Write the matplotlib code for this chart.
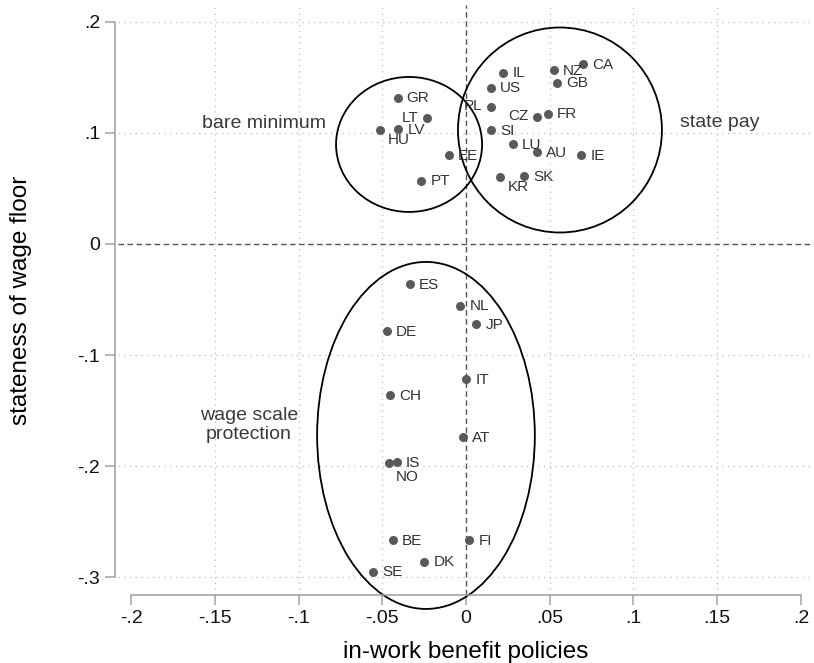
import matplotlib.pyplot as plt
from matplotlib.patches import Ellipse

plt.rcParams['font.family'] = ['Liberation Sans', 'DejaVu Sans']

# country codes and their scores
countries = ['GR', 'LT', 'HU', 'LV', 'EE', 'PT',
             'IL', 'US', 'PL', 'SI', 'CZ', 'FR', 'NZ', 'CA', 'GB',
             'LU', 'AU', 'IE', 'KR', 'SK',
             'ES', 'NL', 'JP', 'DE', 'IT', 'CH', 'AT', 'IS', 'NO',
             'BE', 'FI', 'DK', 'SE']
inwork = [-0.0408, -0.0231, -0.0513, -0.0404, -0.0101, -0.0267,
          0.0223, 0.0151, 0.0148, 0.0151, 0.0426, 0.0490, 0.0525, 0.0697, 0.0545,
          0.0279, 0.0426, 0.0688, 0.0205, 0.0346,
          -0.0334, -0.0034, 0.0061, -0.0472, 0.0002, -0.0454, -0.0016, -0.0414, -0.0458,
          -0.0438, 0.0020, -0.0249, -0.0553]
stateness = [0.1316, 0.1130, 0.1026, 0.1031, 0.0797, 0.0569,
             0.1541, 0.1406, 0.1235, 0.1022, 0.1139, 0.1172, 0.1565, 0.1619, 0.1451,
             0.0896, 0.0824, 0.0797, 0.0605, 0.0608,
             -0.0361, -0.0556, -0.0724, -0.0784, -0.1216, -0.1360, -0.1740, -0.1965, -0.1974,
             -0.2665, -0.2665, -0.2860, -0.2950]
# label clock position (Stata style): 3 = right, 9 = left, 4/5 = below right
labpos = {'LT': 9, 'PL': 9, 'CZ': 9, 'HU': 4, 'KR': 4, 'NO': 5}

xticks = [-0.2, -0.15, -0.1, -0.05, 0, 0.05, 0.1, 0.15, 0.2]
xticklabels = ['-.2', '-.15', '-.1', '-.05', '0', '.05', '.1', '.15', '.2']
yticks = [-0.3, -0.2, -0.1, 0, 0.1, 0.2]
yticklabels = ['-.3', '-.2', '-.1', '0', '.1', '.2']

fig = plt.figure(figsize=(8.14, 6.63), dpi=100)
ax = fig.add_axes([118 / 814, 68 / 663, 696 / 814, 590 / 663])
ax.set_xlim(-0.2078, 0.2078)
ax.set_ylim(-0.316, 0.215)

# dotted grid, skipping the zero lines and the x ends
grid_style = dict(color='#bdbdbd', lw=0.9, ls=(0, (1, 3.6)), zorder=0)
for t in xticks:
    if t != 0 and abs(t) < 0.2:
        ax.axvline(t, **grid_style)
for t in yticks:
    if t != 0:
        ax.axhline(t, **grid_style)
ax.axvline(0, color='#555555', lw=1.0, ls=(0, (4, 2.5)), zorder=1)
ax.axhline(0, color='#555555', lw=1.0, ls=(0, (4, 2.5)), zorder=1)

ax.scatter(inwork, stateness, s=42, color='#595959', zorder=3, linewidths=0)

lab_size = 11
for c, x, y in zip(countries, inwork, stateness):
    p = labpos.get(c, 3)
    if p == 9:
        ax.annotate(c, (x, y), xytext=(-6.2, 0.6), textcoords='offset points',
                    ha='right', va='center', fontsize=lab_size, color='#333333')
    elif p == 4:
        ax.annotate(c, (x, y), xytext=(5.5, -7.5), textcoords='offset points',
                    ha='left', va='center', fontsize=lab_size, color='#333333')
    elif p == 5:
        ax.annotate(c, (x, y), xytext=(4.5, -10), textcoords='offset points',
                    ha='left', va='center', fontsize=lab_size, color='#333333')
    else:
        ax.annotate(c, (x, y), xytext=(6.5, -0.5), textcoords='offset points',
                    ha='left', va='center', fontsize=lab_size, color='#333333')

# group outlines
for (cx, cy), w, h in [((-0.0340, 0.0895), 0.0872, 0.1215),
                       ((0.0561, 0.1025), 0.1218, 0.1845),
                       ((-0.0239, -0.1724), 0.1300, 0.3123)]:
    ax.add_patch(Ellipse((cx, cy), w, h, fill=False, ec='black', lw=1.3,
                         zorder=2, clip_on=False))

ax.text(-0.1205, 0.1043, 'bare minimum', ha='center', va='baseline',
        fontsize=14, color='#3a3a3a')
ax.text(0.1515, 0.1055, 'state pay', ha='center', va='baseline',
        fontsize=14, color='#3a3a3a')
ax.text(-0.1296, -0.1585, 'wage scale', ha='center', va='baseline',
        fontsize=14, color='#3a3a3a')
ax.text(-0.1296, -0.1756, 'protection', ha='center', va='baseline',
        fontsize=14, color='#3a3a3a')

for s in ['top', 'right']:
    ax.spines[s].set_visible(False)
for s in ['left', 'bottom']:
    ax.spines[s].set_color('#a0a0a0')
    ax.spines[s].set_linewidth(1.1)
ax.spines['left'].set_position(('outward', 2.2))
ax.spines['left'].set_bounds(-0.3, 0.2)
ax.spines['bottom'].set_bounds(-0.2, 0.2)

ax.set_xticks(xticks)
ax.set_xticklabels(xticklabels)
ax.set_yticks(yticks)
ax.set_yticklabels(yticklabels)
ax.tick_params(axis='both', direction='out', length=7.2, width=1.1,
               color='#a0a0a0', labelsize=14, labelcolor='#111111')
ax.tick_params(axis='x', pad=3.5)
ax.tick_params(axis='y', pad=3.5)

fig.text(466 / 814, 1 - 652 / 663, 'in-work benefit policies', ha='center',
         va='center', fontsize=17.5)
fig.text(21 / 814, 1 - 300 / 663, 'stateness of wage floor', ha='center',
         va='center', rotation=90, fontsize=17.5)

fig.savefig('out.png', dpi=100)
